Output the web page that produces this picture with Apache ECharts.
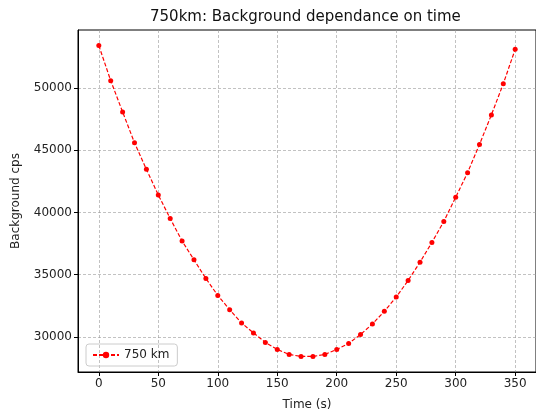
<!DOCTYPE html>
<html>
<head>
<meta charset="utf-8">
<script src="https://cdn.jsdelivr.net/npm/echarts@6/dist/echarts.min.js"></script>
<style>
  html, body { margin: 0; padding: 0; background: #fff; }
  #chart { width: 536px; height: 416px; }
</style>
</head>
<body>
<div id="chart"></div>
<script>
var times = [0, 10, 20, 30, 40, 50, 60, 70, 80, 90, 100, 110, 120, 130, 140, 150, 160, 170,
             180, 190, 200, 210, 220, 230, 240, 250, 260, 270, 280, 290, 300, 310, 320, 330, 340, 350];
var counts = [53400, 50580, 48070, 45590, 43460, 41400, 39510, 37700, 36190, 34690, 33330, 32190,
              31120, 30320, 29550, 28990, 28590, 28430, 28430, 28590, 28990, 29470, 30190, 31040,
              32050, 33200, 34530, 36000, 37590, 39270, 41220, 43190, 45460, 47830, 50330, 53100];
var xTicks = [0, 50, 100, 150, 200, 250, 300, 350];
var yTicks = [30000, 35000, 40000, 45000, 50000];

var chart = echarts.init(document.getElementById('chart'));

var points = times.map(function (t, i) { return [t, counts[i]]; });

var labelStyle = { color: '#222', fontSize: 12, fontFamily: 'DejaVu Sans' };
var gridLine = { show: true, lineStyle: { color: '#999', width: 0.6, type: [3, 2] } };

var option = {
    animation: false,
    title: {
        text: '750km: Background dependance on time',
        left: 145,
        top: 5,
        textStyle: { fontSize: 15, fontWeight: 'normal', color: '#111', fontFamily: 'DejaVu Sans' }
    },
    grid: {
        left: 78, right: 0, top: 30, bottom: 44,
        show: true, borderColor: '#000', borderWidth: 1
    },
    legend: {
        left: 86, top: 344,
        padding: [5, 8, 5, 6],
        borderColor: '#ccc', borderWidth: 1, borderRadius: 3,
        itemWidth: 26, itemHeight: 8, itemGap: 8,
        textStyle: { color: '#222', fontSize: 12, fontFamily: 'DejaVu Sans' },
        data: ['750 km']
    },
    xAxis: {
        type: 'value',
        min: -17.5, max: 367.5,
        name: 'Time (s)', nameLocation: 'middle', nameGap: 27,
        nameTextStyle: labelStyle,
        axisLine: { show: true, onZero: false, lineStyle: { color: '#000', width: 1 } },
        axisTick: { show: true, length: 4, lineStyle: { color: '#000' }, customValues: xTicks },
        axisLabel: Object.assign({ customValues: xTicks, margin: 6 }, labelStyle),
        splitLine: gridLine
    },
    yAxis: {
        type: 'value',
        min: 27180, max: 54650,
        name: 'Background cps', nameLocation: 'middle', nameGap: 56,
        nameTextStyle: labelStyle,
        axisLine: { show: true, onZero: false, lineStyle: { color: '#000', width: 1 } },
        axisTick: { show: true, length: 4, lineStyle: { color: '#000' }, customValues: yTicks },
        axisLabel: Object.assign({
            customValues: yTicks, margin: 6,
            formatter: function (v) { return String(v); }
        }, labelStyle),
        splitLine: gridLine
    },
    series: [{
        name: '750 km',
        type: 'line',
        data: points,
        symbol: 'circle',
        symbolSize: 5,
        itemStyle: { color: '#ff0000' },
        lineStyle: { color: '#ff0000', width: 1.2, type: [4, 2] }
    }]
};

chart.setOption(option);
</script>
</body>
</html>
